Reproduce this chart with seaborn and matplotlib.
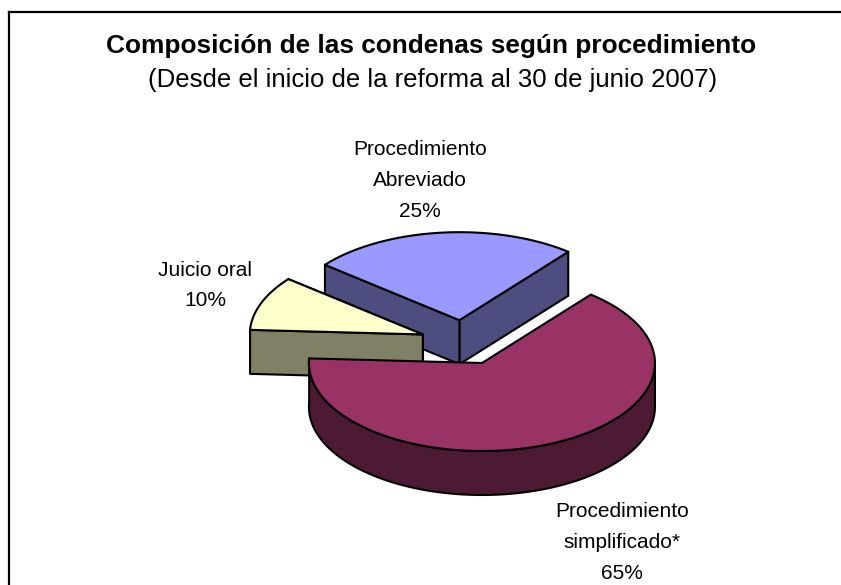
import numpy as np
import matplotlib
matplotlib.use("Agg")
import matplotlib.pyplot as plt
from matplotlib.patches import Polygon
import seaborn as sns

# Data
categories = ["Procedimiento\nAbreviado", "Juicio oral", "Procedimiento\nsimplificado*"]
shares = [25, 10, 65]
title_text = "Composición de las condenas según procedimiento"
subtitle_text = "(Desde el inicio de la reforma al 30 de junio 2007)"

# Style
top_colors = ["#9999FF", "#FFFFCC", "#993366"]
side_colors = ["#4D4D80", "#808066", "#4D1A33"]
label_pos = [(420, 180.5), (205, 285.5), (622, 542.5)]
CX, CY, RX, RY, DEPTH, EXPLODE, START = 464, 342.5, 173, 88, 44, 0.255, 51

sns.set_theme(style="white")
plt.rcParams["font.family"] = ["Liberation Sans", "DejaVu Sans"]

W, H = 841, 585
fig = plt.figure(figsize=(W / 100, H / 100), dpi=100, facecolor="white")
L, T = 9, 11.5
ax = fig.add_axes([L / W, 0, (W - L) / W, (H - T) / H])
ax.set_xlim(L, W)
ax.set_ylim(H, T)
ax.set_xticks([])
ax.set_yticks([])
sns.despine(ax=ax, top=False, left=False, right=True, bottom=True)
for s in ("left", "top"):
    ax.spines[s].set_linewidth(1.6)
    ax.spines[s].set_color("black")


def arc(cx, cy, a1, a2, n=120):
    t = np.radians(np.linspace(a1, a2, n))
    return np.column_stack([cx + RX * np.cos(t), cy - RY * np.sin(t)])


def poly(pts, color, z):
    ax.add_patch(Polygon(pts, closed=True, facecolor=color, edgecolor="black",
                         linewidth=1.5, joinstyle="round", zorder=z))


angle = START
for i, value in enumerate(shares):
    sweep = 360 * value / sum(shares)
    a1, a2 = angle, angle + sweep
    mid = np.radians((a1 + a2) / 2)
    cx = CX + EXPLODE * RX * np.cos(mid)
    cy = CY - EXPLODE * RY * np.sin(mid)
    apex = np.array([cx, cy])
    down = np.array([0, DEPTH])
    z = 2 + i * 3
    # radial cut faces that look towards the viewer
    for a in (a1, a2):
        end = arc(cx, cy, a, a, 1)[0]
        if (a % 360) < 180 and i < 2:
            poly([apex, end, end + down, apex + down], side_colors[i], z)
    # outer rim, lower half of the ellipse only
    lo, hi = max(a1, 177), min(a2, 360)
    if hi > lo:
        rim = arc(cx, cy, lo, hi)
        poly(np.vstack([rim, (rim + down)[::-1]]), side_colors[i], z + 1)
    top = np.vstack([[apex], arc(cx, cy, a1, a2)])
    poly(top, top_colors[i], z + 2)
    angle = a2

for (name, value, (x, y)) in zip(categories, shares, label_pos):
    ax.text(x, y, f"{name}\n{value}%", ha="center", va="center", fontsize=15,
            color="black", linespacing=1.78, zorder=20)

ax.text(431, 46, title_text, ha="center", va="center", fontsize=18.9, fontweight="bold", color="black")
ax.text(432.5, 80, subtitle_text, ha="center", va="center", fontsize=18.5, color="black")

fig.savefig("out.png", dpi=100, facecolor="white")
